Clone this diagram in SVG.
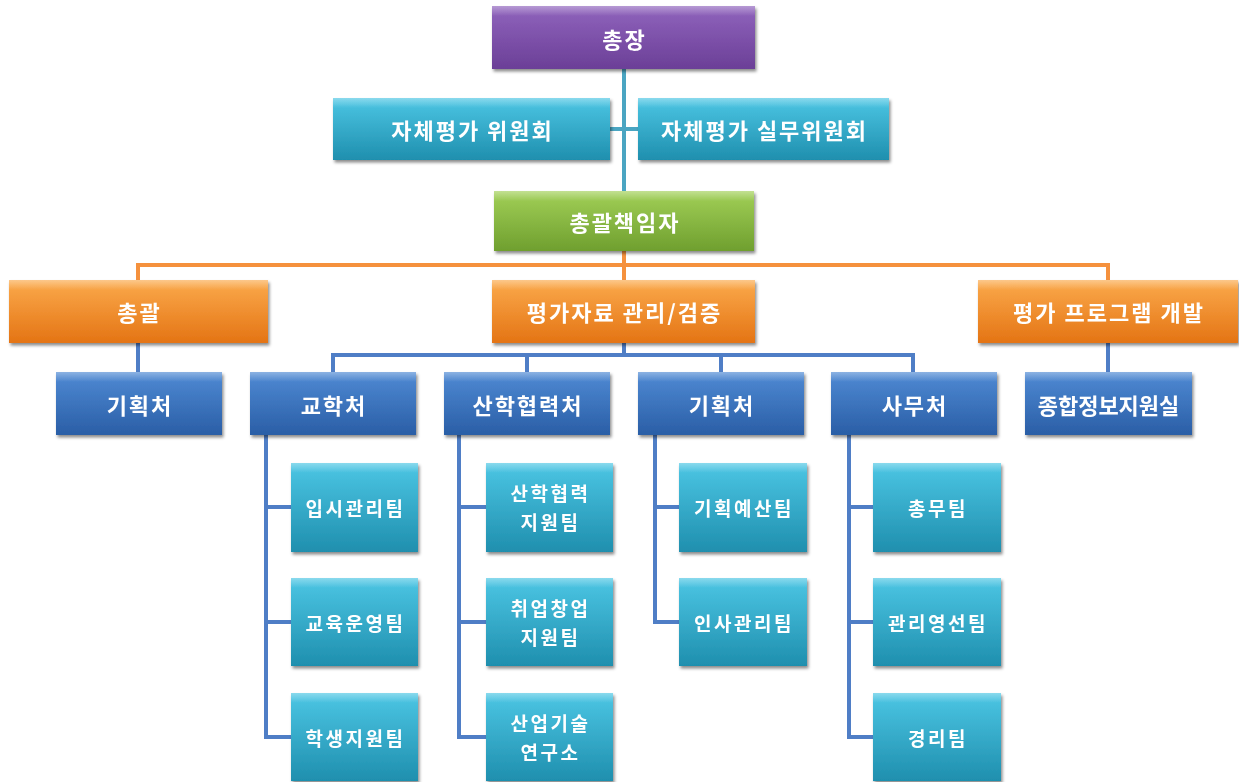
<svg xmlns="http://www.w3.org/2000/svg" width="1239" height="782" viewBox="0 0 1239 782">
<style>
text{font-family:"Noto Sans CJK KR","Noto Sans",sans-serif;font-weight:bold;fill:#fff;text-anchor:middle;dominant-baseline:central}
.t1{font-size:22px;letter-spacing:2px}
.t2{font-size:19px;letter-spacing:2.5px}
.box{filter:url(#sh)}
.hl{fill:url(#hi)}
.c-top{stroke:#4aa5c2;stroke-width:4;fill:none}
.c-or{stroke:#f5913d;stroke-width:4;fill:none}
.c-bl{stroke:#4f7ec6;stroke-width:4;fill:none}
</style>
<defs>
<filter id="sh" x="-10%" y="-10%" width="125%" height="135%">
<feDropShadow dx="1.5" dy="2.5" stdDeviation="1.8" flood-color="#000" flood-opacity="0.45"/>
</filter>
<linearGradient id="gp" x1="0" y1="0" x2="0" y2="1"><stop offset="0" stop-color="#9064bd"/><stop offset="1" stop-color="#6b3f97"/></linearGradient>
<linearGradient id="gc" x1="0" y1="0" x2="0" y2="1"><stop offset="0" stop-color="#4cc6e4"/><stop offset="1" stop-color="#1f8fae"/></linearGradient>
<linearGradient id="gg" x1="0" y1="0" x2="0" y2="1"><stop offset="0" stop-color="#a2d058"/><stop offset="1" stop-color="#6f9f2e"/></linearGradient>
<linearGradient id="go" x1="0" y1="0" x2="0" y2="1"><stop offset="0" stop-color="#fbaa4c"/><stop offset="1" stop-color="#e47414"/></linearGradient>
<linearGradient id="gb" x1="0" y1="0" x2="0" y2="1"><stop offset="0" stop-color="#4f8ad4"/><stop offset="1" stop-color="#2a5ea6"/></linearGradient>
<linearGradient id="hi" x1="0" y1="0" x2="0" y2="1"><stop offset="0" stop-color="#fff" stop-opacity="0.35"/><stop offset="1" stop-color="#fff" stop-opacity="0"/></linearGradient>
</defs>

<g id="connectors">
<path class="c-top" d="M624 69V192M610 129H638"/>
<path class="c-or" d="M624 251V265M138 280V265H1108V280M624 265V280"/>
<path class="c-bl" d="M138 343V372M624 343V355M333 372V355H913V372M527 355V372M721 355V372M1108 343V372"/>
<path class="c-bl" d="M266 435V737H291M266 507H291M266 622H291"/>
<path class="c-bl" d="M459 435V737H486M459 507H486M459 622H486"/>
<path class="c-bl" d="M655 435V622H679M655 507H679"/>
<path class="c-bl" d="M849 435V737H873M849 507H873M849 622H873"/>
</g>

<g id="n-chongjang" class="box"><rect x="492" y="6" width="263" height="63" fill="url(#gp)"/><rect class="hl" x="492" y="6" width="263" height="10"/><text class="t1" x="624.5" y="38">총장</text></g>
<g id="n-committee" class="box"><rect x="333" y="98" width="277" height="62" fill="url(#gc)"/><rect class="hl" x="333" y="98" width="277" height="10"/><text class="t1" x="472.5" y="129">자체평가 위원회</text></g>
<g id="n-working" class="box"><rect x="638" y="98" width="251" height="62" fill="url(#gc)"/><rect class="hl" x="638" y="98" width="251" height="10"/><text class="t1" x="764.5" y="129">자체평가 실무위원회</text></g>
<g id="n-chief" class="box"><rect x="494" y="191" width="260" height="60" fill="url(#gg)"/><rect class="hl" x="494" y="191" width="260" height="10"/><text class="t1" x="625" y="221">총괄책임자</text></g>

<g id="n-overall" class="box"><rect x="9" y="280" width="259" height="63" fill="url(#go)"/><rect class="hl" x="9" y="280" width="259" height="10"/><text class="t1" x="139.5" y="311">총괄</text></g>
<g id="n-data" class="box"><rect x="492" y="280" width="263" height="63" fill="url(#go)"/><rect class="hl" x="492" y="280" width="263" height="10"/><text class="t1" x="624.5" y="311">평가자료 관리/검증</text></g>
<g id="n-program" class="box"><rect x="978" y="280" width="260" height="63" fill="url(#go)"/><rect class="hl" x="978" y="280" width="260" height="10"/><text class="t1" x="1109" y="311">평가 프로그램 개발</text></g>

<g id="n-plan1" class="box"><rect x="56" y="372" width="166" height="63" fill="url(#gb)"/><rect class="hl" x="56" y="372" width="166" height="10"/><text class="t1" x="140" y="404">기획처</text></g>
<g id="n-academic" class="box"><rect x="250" y="372" width="166" height="63" fill="url(#gb)"/><rect class="hl" x="250" y="372" width="166" height="10"/><text class="t1" x="334" y="404">교학처</text></g>
<g id="n-industry" class="box"><rect x="444" y="372" width="166" height="63" fill="url(#gb)"/><rect class="hl" x="444" y="372" width="166" height="10"/><text class="t1" x="528" y="404">산학협력처</text></g>
<g id="n-plan2" class="box"><rect x="638" y="372" width="166" height="63" fill="url(#gb)"/><rect class="hl" x="638" y="372" width="166" height="10"/><text class="t1" x="722" y="404">기획처</text></g>
<g id="n-office" class="box"><rect x="831" y="372" width="166" height="63" fill="url(#gb)"/><rect class="hl" x="831" y="372" width="166" height="10"/><text class="t1" x="915" y="404">사무처</text></g>
<g id="n-info" class="box"><rect x="1025" y="372" width="167" height="63" fill="url(#gb)"/><rect class="hl" x="1025" y="372" width="167" height="10"/><text class="t1" x="1108.5" y="404" style="letter-spacing:0px">종합정보지원실</text></g>

<g id="n-admission" class="box"><rect x="291" y="463" width="127" height="89" fill="url(#gc)"/><rect class="hl" x="291" y="463" width="127" height="10"/><text class="t2" x="355.5" y="507">입시관리팀</text></g>
<g id="n-eduops" class="box"><rect x="291" y="578" width="127" height="88" fill="url(#gc)"/><rect class="hl" x="291" y="578" width="127" height="10"/><text class="t2" x="355.5" y="622">교육운영팀</text></g>
<g id="n-student" class="box"><rect x="291" y="693" width="127" height="88" fill="url(#gc)"/><rect class="hl" x="291" y="693" width="127" height="10"/><text class="t2" x="355.5" y="737">학생지원팀</text></g>

<g id="n-indsupport" class="box"><rect x="486" y="463" width="127" height="89" fill="url(#gc)"/><rect class="hl" x="486" y="463" width="127" height="10"/><text class="t2" x="550.5" y="492">산학협력</text><text class="t2" x="550.5" y="521">지원팀</text></g>
<g id="n-startup" class="box"><rect x="486" y="578" width="127" height="88" fill="url(#gc)"/><rect class="hl" x="486" y="578" width="127" height="10"/><text class="t2" x="550.5" y="607">취업창업</text><text class="t2" x="550.5" y="636">지원팀</text></g>
<g id="n-institute" class="box"><rect x="486" y="693" width="127" height="88" fill="url(#gc)"/><rect class="hl" x="486" y="693" width="127" height="10"/><text class="t2" x="550.5" y="722">산업기술</text><text class="t2" x="550.5" y="751">연구소</text></g>

<g id="n-budget" class="box"><rect x="679" y="463" width="128" height="89" fill="url(#gc)"/><rect class="hl" x="679" y="463" width="128" height="10"/><text class="t2" x="744" y="507">기획예산팀</text></g>
<g id="n-hr" class="box"><rect x="679" y="578" width="128" height="88" fill="url(#gc)"/><rect class="hl" x="679" y="578" width="128" height="10"/><text class="t2" x="744" y="622">인사관리팀</text></g>

<g id="n-general" class="box"><rect x="873" y="463" width="128" height="89" fill="url(#gc)"/><rect class="hl" x="873" y="463" width="128" height="10"/><text class="t2" x="938" y="507">총무팀</text></g>
<g id="n-facility" class="box"><rect x="873" y="578" width="128" height="88" fill="url(#gc)"/><rect class="hl" x="873" y="578" width="128" height="10"/><text class="t2" x="938" y="622">관리영선팀</text></g>
<g id="n-account" class="box"><rect x="873" y="693" width="128" height="88" fill="url(#gc)"/><rect class="hl" x="873" y="693" width="128" height="10"/><text class="t2" x="938" y="737">경리팀</text></g>
</svg>
